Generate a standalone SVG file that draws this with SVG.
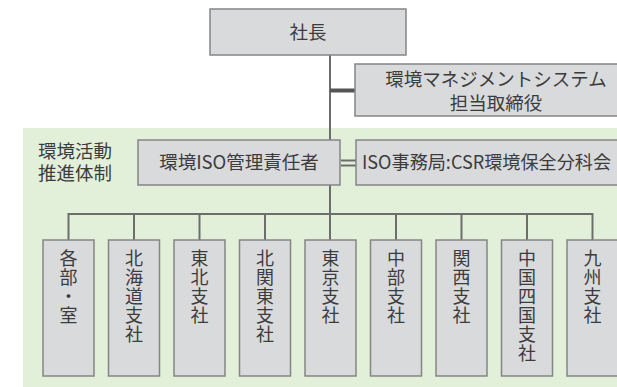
<svg xmlns="http://www.w3.org/2000/svg" width="617" height="387" viewBox="0 0 617 387">
<style>
.box{fill:#d9dadc;stroke:#858585;stroke-width:1.5}
.t{font-family:"Noto Sans CJK JP","Noto Sans",sans-serif;font-size:18.5px;fill:#3c3c3c}
.c{text-anchor:middle}
.v{font-family:"Noto Sans CJK JP","Noto Sans",sans-serif;font-size:18px;fill:#3c3c3c;writing-mode:vertical-rl;letter-spacing:1px}
.ln{stroke:#6d6d6d;stroke-width:2;fill:none}
</style>
<rect x="0" y="0" width="617" height="387" fill="#ffffff"/>
<rect id="bg" x="23" y="128" width="594" height="259" fill="#e2efd9"/>
<text class="t" x="38" y="158">環境活動<tspan x="38" dy="22">推進体制</tspan></text>
<g id="connectors">
<line class="ln" x1="330" y1="55" x2="330" y2="240"/>
<line x1="330" y1="90.5" x2="355" y2="90.5" stroke="#555" stroke-width="4"/>
<line class="ln" x1="341" y1="160.5" x2="356" y2="160.5" stroke-width="1.8"/>
<line class="ln" x1="341" y1="165.5" x2="356" y2="165.5" stroke-width="1.8"/>
<line class="ln" x1="68.5" y1="214" x2="592.5" y2="214"/>
<line class="ln" x1="68.5" y1="213" x2="68.5" y2="240"/>
<line class="ln" x1="134" y1="214" x2="134" y2="240"/>
<line class="ln" x1="199.5" y1="214" x2="199.5" y2="240"/>
<line class="ln" x1="265" y1="214" x2="265" y2="240"/>
<line class="ln" x1="396" y1="214" x2="396" y2="240"/>
<line class="ln" x1="461.5" y1="214" x2="461.5" y2="240"/>
<line class="ln" x1="527" y1="214" x2="527" y2="240"/>
<line class="ln" x1="592.5" y1="213" x2="592.5" y2="240"/>
</g>
<g id="president">
<rect class="box" x="210" y="9" width="196" height="46"/>
<text class="t c" x="308" y="39">社長</text>
</g>
<g id="ems">
<rect class="box" x="355" y="64" width="270" height="52"/>
<text class="t c" x="496" y="86">環境マネジメントシステム</text>
<text class="t c" x="496" y="110">担当取締役</text>
</g>
<g id="iso-manager">
<rect class="box" x="138" y="140" width="202" height="45"/>
<text class="t c" x="239" y="169">環境ISO管理責任者</text>
</g>
<g id="iso-office">
<rect class="box" x="356" y="140" width="270" height="45"/>
<text class="t" x="362" y="169" textLength="249" lengthAdjust="spacingAndGlyphs">ISO事務局:CSR環境保全分科会</text>
</g>
<g id="b1"><rect class="box" x="43" y="240" width="51" height="136"/>
<text class="v" x="68.5" y="249">各部・室</text></g>
<g id="b2"><rect class="box" x="108.5" y="240" width="51" height="136"/>
<text class="v" x="134" y="249">北海道支社</text></g>
<g id="b3"><rect class="box" x="174" y="240" width="51" height="136"/>
<text class="v" x="199.5" y="249">東北支社</text></g>
<g id="b4"><rect class="box" x="239.5" y="240" width="51" height="136"/>
<text class="v" x="265" y="249">北関東支社</text></g>
<g id="b5"><rect class="box" x="305" y="240" width="51" height="136"/>
<text class="v" x="330.5" y="249">東京支社</text></g>
<g id="b6"><rect class="box" x="370.5" y="240" width="51" height="136"/>
<text class="v" x="396" y="249">中部支社</text></g>
<g id="b7"><rect class="box" x="436" y="240" width="51" height="136"/>
<text class="v" x="461.5" y="249">関西支社</text></g>
<g id="b8"><rect class="box" x="501.5" y="240" width="51" height="136"/>
<text class="v" x="527" y="249">中国四国支社</text></g>
<g id="b9"><rect class="box" x="567" y="240" width="51" height="136"/>
<text class="v" x="592.5" y="249">九州支社</text></g>
</svg>
